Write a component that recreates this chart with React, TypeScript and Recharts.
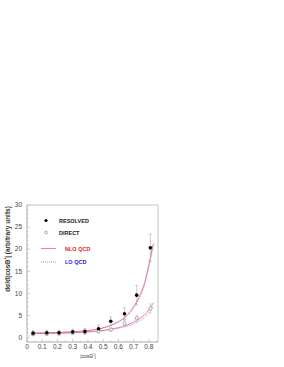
import { ComposedChart, XAxis, YAxis, Scatter, Line, ErrorBar } from 'recharts'

// measured points
const binCentres = [0.04, 0.13, 0.21, 0.3, 0.38, 0.47, 0.55, 0.64, 0.72, 0.81]
const resolvedVals = [1.0, 1.1, 1.1, 1.3, 1.4, 2.0, 3.7, 5.4, 9.6, 20.3]
const resolvedErr = [0.6, 0.6, 0.6, 0.6, 0.7, 0.8, 1.0, 1.3, 2.2, 3.1]
const directVals = [0.8, 0.9, 1.0, 1.1, 1.2, 1.4, 1.8, 3.2, 4.4, 6.6]
const directErr = [0.3, 0.3, 0.3, 0.3, 0.3, 0.3, 0.4, 0.6, 0.7, 1.0]

// theory curves
const curveX = [0.03, 0.1, 0.2, 0.3, 0.4, 0.5, 0.55, 0.6, 0.65, 0.7, 0.74, 0.77, 0.8, 0.82, 0.83]
const resolvedNlo = [1.0, 1.05, 1.15, 1.3, 1.6, 2.2, 2.8, 3.6, 4.9, 7.0, 9.5, 12.2, 16.5, 19.8, 21.3]
const resolvedLo = [1.0, 1.05, 1.15, 1.3, 1.6, 2.2, 2.7, 3.5, 4.7, 6.7, 9.1, 11.7, 15.9, 19.2, 20.8]
const directNlo = [0.9, 0.95, 1.0, 1.1, 1.3, 1.6, 1.9, 2.25, 2.75, 3.5, 4.3, 5.1, 6.3, 7.3, 7.9]
const directLo = [0.9, 0.95, 1.0, 1.1, 1.3, 1.55, 1.8, 2.1, 2.5, 3.1, 3.8, 4.5, 5.6, 6.5, 7.1]

// major ticks carry labels, the rest are minor marks
const xTicks = [0, 0.05, 0.1, 0.15, 0.2, 0.25, 0.3, 0.35, 0.4, 0.45, 0.5, 0.55, 0.6, 0.65, 0.7, 0.75, 0.8, 0.85]
const xLabels = ['0', '0.1', '0.2', '0.3', '0.4', '0.5', '0.6', '0.7', '0.8']
const yTicks = [0, 1, 2, 3, 4, 5, 6, 7, 8, 9, 10, 11, 12, 13, 14, 15, 16, 17, 18, 19, 20, 21, 22, 23, 24, 25, 26, 27, 28, 29, 30]
const yLabels = ['0', '5', '10', '15', '20', '25', '30']

const resolved = binCentres.map((x, i) => ({ x, y: resolvedVals[i], err: resolvedErr[i] }))
const direct = binCentres.map((x, i) => ({ x, y: directVals[i], err: directErr[i] }))
const curve = (ys: number[]) => curveX.map((x, i) => ({ x, y: ys[i] }))

const axisColor = '#aaaaaa'
const frameColor = '#c4c4c4'
const textColor = '#444444'
const font = 'Liberation Sans, Arial, sans-serif'

function XTick({ x, y, payload }: any) {
  const label = String(payload.value)
  const major = xLabels.includes(label)
  return (
    <g>
      <line x1={x} x2={x} y1={y} y2={y - (major ? 3 : 1.5)} stroke={axisColor} strokeWidth={0.6} />
      {major && (
        <text x={x} y={y + 7} textAnchor="middle" fontSize={6.5} fill={textColor} fontFamily={font}>
          {label}
        </text>
      )}
    </g>
  )
}

function YTick({ x, y, payload }: any) {
  const label = String(payload.value)
  const major = yLabels.includes(label)
  return (
    <g>
      <line x1={x} x2={x + (major ? 3 : 1.5)} y1={y} y2={y} stroke={axisColor} strokeWidth={0.6} />
      {major && (
        <text x={x - 5} y={y + 2.3} textAnchor="end" fontSize={6.5} fill={textColor} fontFamily={font}>
          {label}
        </text>
      )}
    </g>
  )
}

const filledDot = (p: any) => <circle cx={p.cx} cy={p.cy} r={1.8} fill="#000" />
const openDot = (p: any) => <circle cx={p.cx} cy={p.cy} r={1.6} fill="#fff" stroke="#777" strokeWidth={0.6} />

export default function App() {
  return (
    <div style={{ position: 'absolute', left: 0, top: 0 }}>
      <ComposedChart width={284} height={367} margin={{ top: 204, right: 125, bottom: 15, left: 7 }}>
        <XAxis
          xAxisId="b"
          type="number"
          dataKey="x"
          domain={[0, 0.86]}
          ticks={xTicks}
          interval={0}
          tick={<XTick />}
          tickLine={false}
          tickSize={0}
          tickMargin={0}
          axisLine={{ stroke: axisColor }}
          height={10}
          allowDataOverflow
        />
        <XAxis xAxisId="t" orientation="top" type="number" domain={[0, 0.86]} tick={false} tickLine={false} axisLine={{ stroke: frameColor }} height={1} />
        <YAxis
          yAxisId="l"
          type="number"
          dataKey="y"
          domain={[-1, 30]}
          ticks={yTicks}
          interval={0}
          tick={<YTick />}
          tickLine={false}
          tickSize={0}
          tickMargin={0}
          axisLine={{ stroke: axisColor }}
          width={20}
          allowDataOverflow
        />
        <YAxis yAxisId="r" orientation="right" type="number" domain={[-1, 30]} tick={false} tickLine={false} axisLine={{ stroke: frameColor }} width={1} />

        <Line xAxisId="b" yAxisId="l" data={curve(directLo)} dataKey="y" type="monotone" stroke="#7777ff" strokeWidth={0.8} strokeDasharray="1 1" dot={false} isAnimationActive={false} />
        <Line xAxisId="b" yAxisId="l" data={curve(resolvedLo)} dataKey="y" type="monotone" stroke="#7777ff" strokeWidth={0.8} strokeDasharray="1 1" dot={false} isAnimationActive={false} />
        <Line xAxisId="b" yAxisId="l" data={curve(directNlo)} dataKey="y" type="monotone" stroke="#f06080" strokeWidth={0.8} dot={false} isAnimationActive={false} />
        <Line xAxisId="b" yAxisId="l" data={curve(resolvedNlo)} dataKey="y" type="monotone" stroke="#f06080" strokeWidth={0.8} dot={false} isAnimationActive={false} />

        <Scatter xAxisId="b" yAxisId="l" data={direct} dataKey="y" shape={openDot} isAnimationActive={false}>
          <ErrorBar dataKey="err" direction="y" width={1.5} stroke="#bbbbbb" strokeWidth={0.6} />
        </Scatter>
        <Scatter xAxisId="b" yAxisId="l" data={resolved} dataKey="y" shape={filledDot} isAnimationActive={false}>
          <ErrorBar dataKey="err" direction="y" width={1.5} stroke="#aaaaaa" strokeWidth={0.6} />
        </Scatter>

        {/* legend */}
        <circle cx={46} cy={220.5} r={1.6} fill="#000" />
        <text x={59} y={222.5} fontSize={5.5} fontWeight="700" fill="#222" fontFamily={font}>RESOLVED</text>
        <circle cx={46} cy={232.5} r={1.4} fill="#fff" stroke="#777" strokeWidth={0.6} />
        <text x={59} y={234.5} fontSize={5.5} fontWeight="700" fill="#222" fontFamily={font}>DIRECT</text>
        <line x1={41} x2={56} y1={248.5} y2={248.5} stroke="#f06080" strokeWidth={0.8} />
        <text x={65} y={250.5} fontSize={5.5} fontWeight="700" fill="#ee2222" fontFamily={font}>NLO QCD</text>
        <line x1={41} x2={56} y1={262} y2={262} stroke="#7777ff" strokeWidth={0.8} strokeDasharray="1 1" />
        <text x={65} y={264} fontSize={5.5} fontWeight="700" fill="#2222ee" fontFamily={font}>LO QCD</text>

        {/* axis titles */}
        <text x={88} y={358} textAnchor="middle" fontSize={5} fill="#333" fontFamily={font}>
          |cosΘ<tspan dy={-2} fontSize={3.5}>*</tspan><tspan dy={2}>|</tspan>
        </text>
        <text
          transform="translate(9.5,249) rotate(-90)"
          textAnchor="middle"
          fontSize={6.5}
          fontWeight="700"
          fill="#333"
          fontFamily={font}
        >
          dσ/d|cosΘ<tspan dy={-2} fontSize={4.5}>*</tspan><tspan dy={2}>| (arbitrary units)</tspan>
        </text>
      </ComposedChart>
    </div>
  )
}
